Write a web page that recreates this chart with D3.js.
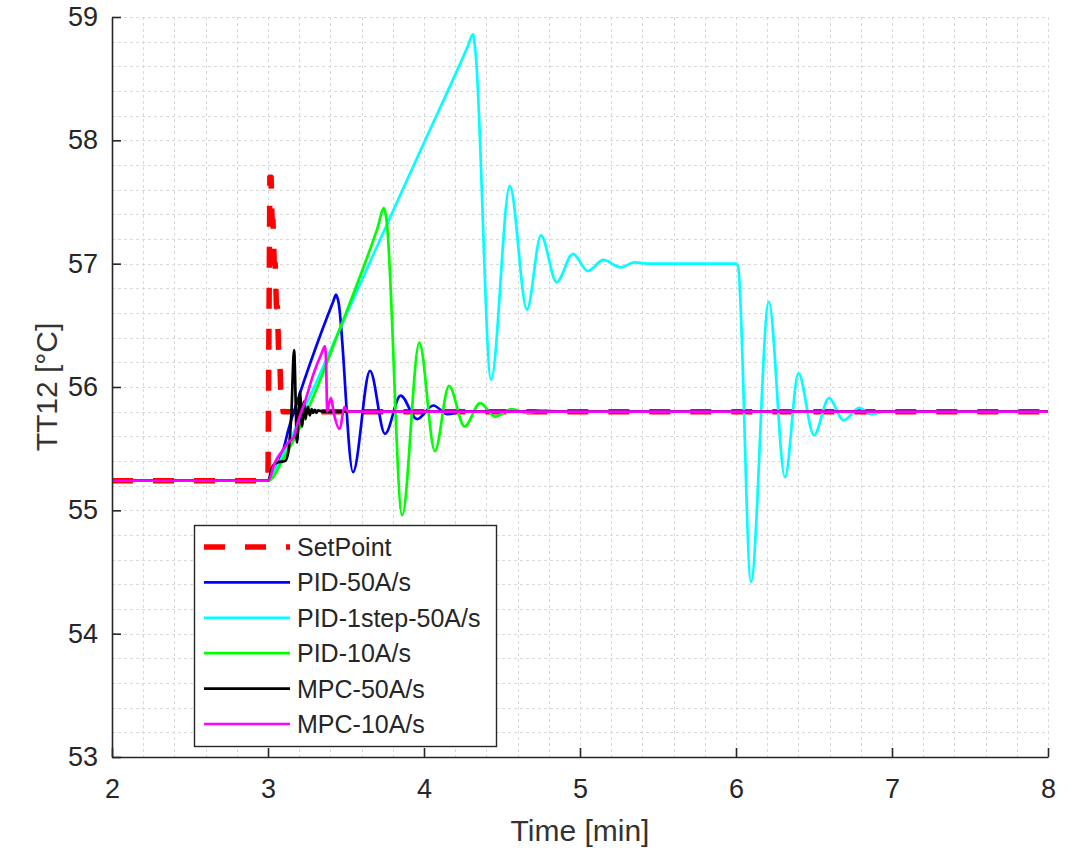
<!DOCTYPE html>
<html><head><meta charset="utf-8">
<script src="https://cdn.jsdelivr.net/npm/d3@7"></script>
<style>
body{margin:0;background:#fff}
svg{display:block}
text{font-family:"Liberation Sans",Arial,Helvetica,sans-serif;fill:#262626}
</style>
</head><body>
<svg id="chart" width="1073" height="848"></svg>
<script>
// ---------- data ----------
const xTicks = [2, 3, 4, 5, 6, 7, 8];
const yTicks = [53, 54, 55, 56, 57, 58, 59];
const xLabel = "Time [min]";
const yLabel = "TT12 [°C]";

const seriesNames = ["SetPoint", "PID-50A/s", "PID-1step-50A/s", "PID-10A/s", "MPC-50A/s", "MPC-10A/s"];
const seriesColors = ["#ff0000", "#0000ff", "#00ffff", "#00ff00", "#000000", "#ff00ff"];

const tSetPoint = [2, 3.0, 3.012, 3.02, 3.026, 3.032, 3.04, 3.046, 3.054, 3.06, 3.068, 3.074, 3.082, 3.088, 3.097, 8];
const vSetPoint = [55.24, 55.24, 57.7, 57.7, 57.35, 57.35, 57.0, 57.0, 56.65, 56.65, 56.3, 56.3, 55.95, 55.95, 55.8, 55.8];

const tPID50 = [2, 3.0, 3.05, 3.1, 3.13, 3.2, 3.35, 3.42, 3.436, 3.45, 3.545, 3.654, 3.75, 3.85, 3.955, 4.06, 4.15, 4.25, 8];
const vPID50 = [55.24, 55.24, 55.33, 55.5, 55.65, 55.93, 56.47, 56.7, 56.75, 56.7, 55.31, 56.13, 55.62, 55.93, 55.74, 55.85, 55.78, 55.8, 55.8];

const tPID1step = [2, 3.0, 3.05, 3.1, 3.2, 3.3, 3.46, 4.0, 4.28, 4.314, 4.33, 4.43, 4.55, 4.66, 4.75, 4.85, 4.955, 5.05, 5.15, 5.26, 5.35, 5.45, 6.0, 6.013, 6.096, 6.21, 6.314, 6.40, 6.50, 6.596, 6.69, 6.79, 6.87, 6.95, 8];
const vPID1step = [55.24, 55.24, 55.33, 55.46, 55.73, 56.01, 56.47, 57.98, 58.76, 58.86, 58.72, 56.06, 57.63, 56.63, 57.23, 56.85, 57.08, 56.94, 57.03, 56.97, 57.01, 57.0, 57.0, 56.98, 54.42, 56.69, 55.27, 56.11, 55.61, 55.91, 55.73, 55.83, 55.78, 55.8, 55.8];

const tPID10 = [2, 3.0, 3.1, 3.2, 3.3, 3.46, 3.6, 3.7, 3.744, 3.76, 3.86, 3.97, 4.07, 4.16, 4.26, 4.36, 4.455, 4.56, 4.66, 4.76, 4.9, 8];
const vPID10 = [55.24, 55.24, 55.42, 55.66, 55.95, 56.47, 56.93, 57.28, 57.45, 57.35, 54.96, 56.36, 55.48, 56.01, 55.68, 55.87, 55.76, 55.82, 55.79, 55.81, 55.8, 55.8];

const tMPC50 = [2, 3.0, 3.03, 3.065, 3.11, 3.13, 3.15, 3.167, 3.186, 3.205, 3.218, 3.23, 3.24, 3.255, 3.268, 3.28, 3.29, 3.30, 3.31, 3.32, 3.35, 8];
const vMPC50 = [55.24, 55.24, 55.36, 55.39, 55.40, 55.47, 55.79, 56.30, 55.55, 55.96, 55.68, 55.88, 55.74, 55.84, 55.77, 55.82, 55.79, 55.815, 55.79, 55.81, 55.8, 55.8];

const tMPC10 = [2, 3.0, 3.045, 3.09, 3.13, 3.167, 3.19, 3.237, 3.29, 3.346, 3.365, 3.372, 3.38, 3.39, 3.404, 3.42, 3.46, 3.49, 3.51, 8];
const vMPC10 = [55.24, 55.24, 55.39, 55.48, 55.55, 55.6, 55.71, 55.88, 56.1, 56.28, 56.33, 56.2, 55.8, 55.86, 55.91, 55.8, 55.66, 55.84, 55.8, 55.8];

const seriesT = [tSetPoint, tPID50, tPID1step, tPID10, tMPC50, tMPC10];
const seriesV = [vSetPoint, vPID50, vPID1step, vPID10, vMPC50, vMPC10];

// ---------- layout ----------
const svg = d3.select("#chart");
const L = 112, R = 1048, T = 17, B = 757;
const x = d3.scaleLinear().domain([2, 8]).range([L, R]);
const y = d3.scaleLinear().domain([53, 59]).range([B, T]);

svg.append("rect").attr("width", 1073).attr("height", 848).attr("fill", "#fff");

// grid (every 0.2)
const gridX = d3.range(0, 31).map(i => 2 + i * 0.2);
const gridY = d3.range(0, 31).map(i => 53 + i * 0.2);
const grid = svg.append("g").attr("stroke", "#d9d9d9").attr("stroke-width", 1).attr("stroke-dasharray", "3,3");
grid.selectAll("line.gx").data(gridX).join("line").attr("class", "gx")
  .attr("x1", d => Math.round(x(d)) + 0.5).attr("x2", d => Math.round(x(d)) + 0.5)
  .attr("y1", T).attr("y2", B);
grid.selectAll("line.gy").data(gridY).join("line").attr("class", "gy")
  .attr("y1", d => Math.round(y(d)) + 0.5).attr("y2", d => Math.round(y(d)) + 0.5)
  .attr("x1", L).attr("x2", R);

// series
const plot = svg.append("g");
seriesNames.forEach((name, i) => {
  const pts = seriesT[i].map((t, k) => [t, seriesV[i][k]]);
  const line = d3.line().x(d => x(d[0])).y(d => y(d[1]))
    .curve(i === 0 ? d3.curveLinear : d3.curveMonotoneX);
  plot.append("path").datum(pts)
    .attr("fill", "none")
    .attr("stroke", seriesColors[i])
    .attr("stroke-width", i === 0 ? 5.5 : 2.7)
    .attr("stroke-dasharray", i === 0 ? "21,20" : null)
    .attr("stroke-linejoin", "round")
    .attr("d", line);
});

// axes
const xAxis = d3.axisBottom(x).tickValues(xTicks).tickSizeInner(-9).tickSizeOuter(0).tickPadding(22).tickFormat(d3.format("d"));
const yAxis = d3.axisLeft(y).tickValues(yTicks).tickSizeInner(-9).tickSizeOuter(0).tickPadding(14).tickFormat(d3.format("d"));
const gx = svg.append("g").attr("transform", `translate(0,${B})`).call(xAxis);
const gy = svg.append("g").attr("transform", `translate(${L},0)`).call(yAxis);
[gx, gy].forEach(g => {
  g.select(".domain").attr("stroke", "#262626").attr("stroke-width", 1.6);
  g.selectAll(".tick line").attr("stroke", "#262626").attr("stroke-width", 1.6);
  g.selectAll(".tick text").attr("fill", "#333").style("font-size", "27px")
    .style("font-family", '"Liberation Sans", Arial, sans-serif');
});
gx.selectAll(".tick text").attr("dy", "0.71em");

svg.append("text").attr("x", (L + R) / 2).attr("y", 841).attr("text-anchor", "middle")
  .style("font-size", "30px").style("fill", "#333").text(xLabel);
svg.append("text").attr("transform", `translate(57,${(T + B) / 2}) rotate(-90)`).attr("text-anchor", "middle")
  .style("font-size", "30px").style("fill", "#333").text(yLabel);

// legend
const lg = svg.append("g");
lg.append("rect").attr("x", 194.5).attr("y", 525.5).attr("width", 302).attr("height", 221)
  .attr("fill", "#fff").attr("stroke", "#262626").attr("stroke-width", 1.4);
seriesNames.forEach((name, i) => {
  const cy = 547 + i * 35.4;
  lg.append("line").attr("x1", 204).attr("x2", 290).attr("y1", cy).attr("y2", cy)
    .attr("stroke", seriesColors[i]).attr("stroke-width", i === 0 ? 5.5 : 2.7)
    .attr("stroke-dasharray", i === 0 ? "21,20" : null);
  lg.append("text").attr("x", 297).attr("y", cy + 9).style("font-size", "25px").style("fill", "#262626").text(name);
});
</script>
</body></html>
